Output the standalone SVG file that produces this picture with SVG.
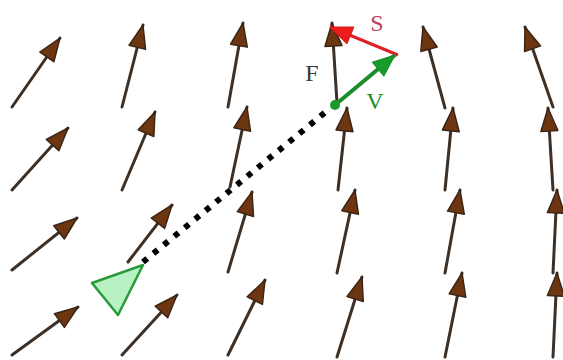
<svg xmlns="http://www.w3.org/2000/svg" width="563" height="360" viewBox="0 0 563 360">
<style>
.f{stroke:#3d3026;stroke-width:3;stroke-linecap:round;fill:none;marker-end:url(#bh)}
.lbl{font-family:"Liberation Serif",serif;font-size:24px}
</style>
<defs>
<marker id="bh" viewBox="-26 -11 28 22" refX="0" refY="0" markerWidth="28" markerHeight="22" markerUnits="userSpaceOnUse" orient="auto">
<path d="M0,0 L-23,-8.5 L-23,8.5 Z" fill="#6e3610" stroke="#3b2616" stroke-width="1.5" stroke-linejoin="round"/>
</marker>
<marker id="rh" viewBox="-26 -11 28 22" refX="0" refY="0" markerWidth="28" markerHeight="22" markerUnits="userSpaceOnUse" orient="auto">
<path d="M0,0 L-22,-9 L-22,9 Z" fill="#ee1c1c" stroke="#d01818" stroke-width="1" stroke-linejoin="round"/>
</marker>
<marker id="gh" viewBox="-26 -11 28 22" refX="0" refY="0" markerWidth="28" markerHeight="22" markerUnits="userSpaceOnUse" orient="auto">
<path d="M0,0 L-22,-9 L-22,9 Z" fill="#1a9a2a" stroke="#158a24" stroke-width="1" stroke-linejoin="round"/>
</marker>
</defs>
<rect width="563" height="360" fill="#ffffff"/>
<g id="field">
<line class="f" x1="12" y1="107" x2="60" y2="38"/>
<line class="f" x1="12" y1="190" x2="68" y2="128"/>
<line class="f" x1="12" y1="270" x2="77" y2="218"/>
<line class="f" x1="12" y1="355" x2="78" y2="307"/>
<line class="f" x1="122" y1="107" x2="143" y2="25"/>
<line class="f" x1="122" y1="190" x2="155" y2="112"/>
<line class="f" x1="128" y1="262" x2="172" y2="205"/>
<line class="f" x1="122" y1="355" x2="177" y2="295"/>
<line class="f" x1="228" y1="107" x2="243" y2="23"/>
<line class="f" x1="230" y1="187" x2="247" y2="107"/>
<line class="f" x1="228" y1="272" x2="252" y2="192"/>
<line class="f" x1="228" y1="355" x2="265" y2="280"/>
<line class="f" x1="338" y1="190" x2="347" y2="108"/>
<line class="f" x1="337" y1="273" x2="355" y2="190"/>
<line class="f" x1="337" y1="357" x2="362" y2="277"/>
<line class="f" x1="445" y1="108" x2="423" y2="27"/>
<line class="f" x1="445" y1="190" x2="453" y2="108"/>
<line class="f" x1="445" y1="273" x2="460" y2="190"/>
<line class="f" x1="445" y1="357" x2="462" y2="273"/>
<line class="f" x1="553" y1="107" x2="525" y2="27"/>
<line class="f" x1="553" y1="190" x2="548" y2="108"/>
<line class="f" x1="553" y1="273" x2="557" y2="190"/>
<line class="f" x1="553" y1="357" x2="557" y2="273"/>
</g>
<g id="path">
<line x1="143" y1="262" x2="328" y2="110" stroke="#000" stroke-width="6" stroke-dasharray="5.5 8"/>
</g>
<g id="boat">
<polygon points="92,283 143,265 118,315" fill="#b9f2c2" stroke="#2a9a3a" stroke-width="2.5" stroke-linejoin="round"/>
</g>
<g id="vectors">
<line class="f" x1="337" y1="103" x2="332" y2="23"/>
<line x1="398" y1="55" x2="330" y2="27" stroke="#e02028" stroke-width="3" marker-end="url(#rh)"/>
<line x1="335" y1="105" x2="395" y2="55" stroke="#1a8c2a" stroke-width="4" marker-end="url(#gh)"/>
<circle cx="335" cy="105" r="5" fill="#1a9a2a"/>
</g>
<g id="labels">
<text class="lbl" x="312" y="81" text-anchor="middle" fill="#3a3a30">F</text>
<text class="lbl" x="377" y="31" text-anchor="middle" fill="#c0405a">S</text>
<text class="lbl" x="375" y="109" text-anchor="middle" fill="#1a8c2a">V</text>
</g>
</svg>
